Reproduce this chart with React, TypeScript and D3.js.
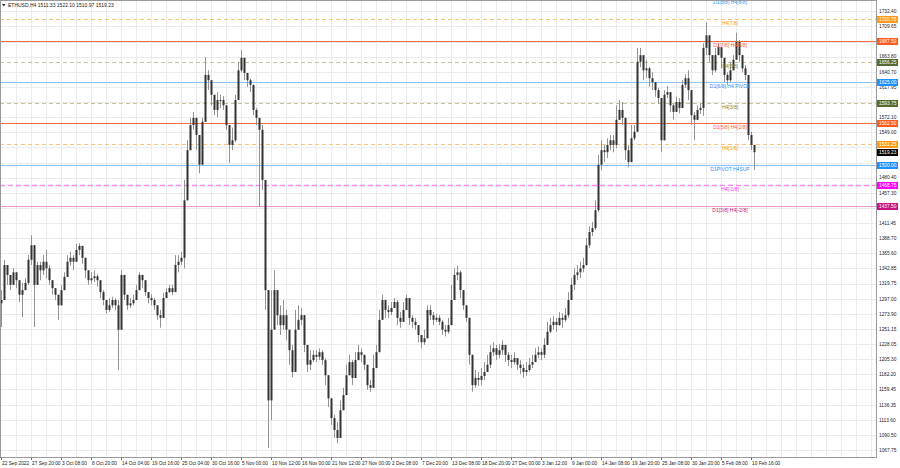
import React from "react";
import * as d3 from "d3";

// ---- data (H4 candles, grouped) ----
const firstOpen = 1290;
const closes = [
  1295,1348,1333,1318,1337,1325,1303,1310,1321,1356,
  1378,1318,1348,1340,1353,1343,1325,1313,1303,1287,
  1310,1330,1353,1359,1353,1371,1377,1359,1340,1325,
  1328,1331,1325,1307,1295,1280,1287,1295,1287,1250,
  1333,1303,1287,1290,1295,1310,1333,1325,1307,1298,
  1295,1287,1272,1268,1298,1307,1313,1307,1348,1353,
  1359,1446,1522,1560,1571,1545,1500,1565,1636,1628,
  1606,1583,1598,1598,1590,1560,1530,1537,1598,1643,
  1662,1639,1628,1621,1583,1571,1553,1477,1310,1143,
  1250,1310,1272,1257,1272,1250,1219,1186,1250,1265,
  1272,1227,1197,1204,1212,1209,1216,1204,1181,1146,
  1116,1098,1086,1128,1151,1181,1201,1177,1204,1216,
  1212,1197,1166,1162,1192,1216,1265,1295,1280,1277,
  1283,1292,1268,1262,1280,1298,1268,1262,1257,1242,
  1231,1237,1280,1272,1265,1268,1262,1250,1247,1257,
  1295,1333,1337,1310,1287,1268,1212,1166,1177,1174,
  1180,1186,1197,1216,1222,1212,1219,1227,1212,1204,
  1201,1207,1197,1192,1186,1189,1197,1201,1212,1216,
  1212,1227,1247,1257,1262,1257,1268,1265,1272,1295,
  1318,1333,1337,1343,1348,1378,1398,1404,1431,1500,
  1522,1519,1530,1537,1530,1568,1583,1571,1522,1504,
  1540,1550,1656,1666,1643,1646,1631,1625,1613,1601,
  1537,1606,1610,1590,1580,1595,1586,1621,1631,1613,
  1575,1568,1583,1586,1677,1696,1666,1643,1666,1678,
  1662,1636,1628,1643,1659,1686,1666,1646,1636,1545,
  1530,1519,
];
const highs = [
  1310,1356,1340,1325,1343,1337,1318,1321,1328,1363,
  1393,1340,1353,1353,1363,1371,1348,1325,1313,1303,
  1318,1337,1363,1368,1363,1380,1381,1374,1356,1333,
  1337,1340,1334,1318,1310,1295,1298,1300,1298,1295,
  1340,1318,1298,1298,1303,1318,1337,1333,1318,1307,
  1304,1298,1287,1280,1306,1313,1318,1318,1363,1363,
  1368,1477,1537,1571,1580,1568,1515,1571,1663,1643,
  1621,1606,1610,1606,1604,1590,1560,1556,1606,1656,
  1674,1651,1639,1631,1598,1586,1571,1560,1477,1295,
  1310,1340,1303,1287,1295,1280,1242,1227,1280,1287,
  1283,1268,1227,1219,1219,1219,1222,1219,1207,1181,
  1143,1121,1110,1143,1162,1197,1212,1204,1216,1227,
  1222,1212,1197,1174,1212,1227,1280,1303,1295,1287,
  1292,1298,1295,1277,1292,1303,1298,1272,1268,1257,
  1242,1250,1287,1287,1277,1274,1272,1265,1257,1268,
  1318,1343,1347,1340,1303,1287,1268,1212,1189,1186,
  1192,1201,1212,1227,1231,1227,1228,1234,1227,1216,
  1212,1216,1207,1204,1198,1201,1207,1212,1222,1225,
  1222,1237,1262,1268,1271,1268,1277,1275,1283,1307,
  1328,1343,1348,1353,1359,1389,1407,1413,1446,1515,
  1537,1530,1540,1545,1545,1590,1598,1595,1571,1530,
  1560,1560,1677,1677,1663,1659,1648,1640,1624,1616,
  1601,1613,1619,1606,1592,1603,1601,1628,1637,1643,
  1606,1580,1590,1593,1684,1715,1689,1666,1677,1684,
  1677,1656,1640,1656,1666,1700,1689,1662,1651,1636,
  1550,1527,
];
const lows = [
  1254,1310,1318,1310,1325,1313,1292,1269,1310,1318,
  1348,1254,1318,1325,1333,1328,1318,1303,1295,1265,
  1287,1318,1343,1347,1340,1362,1363,1350,1328,1318,
  1319,1322,1315,1298,1287,1275,1277,1283,1280,1189,
  1287,1295,1280,1283,1287,1298,1318,1313,1301,1290,
  1287,1280,1265,1253,1268,1298,1306,1303,1307,1337,
  1348,1343,1446,1522,1553,1522,1487,1500,1565,1613,
  1590,1575,1572,1586,1583,1553,1503,1522,1534,1598,
  1640,1628,1618,1610,1575,1560,1436,1462,1280,1071,
  1113,1295,1257,1242,1250,1234,1197,1178,1219,1250,
  1257,1216,1186,1189,1201,1201,1204,1197,1166,1133,
  1106,1086,1078,1098,1136,1159,1189,1166,1186,1207,
  1201,1189,1159,1156,1177,1204,1219,1272,1268,1268,
  1272,1283,1257,1253,1265,1283,1257,1253,1250,1231,
  1222,1227,1237,1265,1257,1262,1257,1242,1240,1244,
  1272,1295,1325,1298,1280,1262,1197,1156,1162,1165,
  1166,1174,1186,1192,1210,1204,1207,1212,1201,1195,
  1192,1197,1189,1183,1177,1180,1186,1192,1201,1207,
  1204,1207,1227,1245,1250,1247,1256,1253,1262,1268,
  1295,1310,1325,1328,1337,1347,1374,1392,1401,1428,
  1492,1504,1510,1522,1519,1525,1568,1560,1507,1496,
  1507,1537,1550,1648,1628,1631,1618,1613,1603,1592,
  1519,1537,1601,1580,1568,1583,1578,1590,1616,1598,
  1560,1537,1571,1577,1574,1666,1656,1636,1640,1666,
  1646,1625,1621,1625,1643,1659,1656,1640,1628,1537,
  1522,1492,
];

const timeLabels = [
  "22 Sep 2022", "27 Sep 20:00", "3 Oct 08:00", "8 Oct 20:00", "14 Oct 04:00",
  "19 Oct 16:00", "25 Oct 04:00", "30 Oct 16:00", "5 Nov 00:00", "10 Nov 12:00",
  "16 Nov 00:00", "21 Nov 12:00", "27 Nov 00:00", "2 Dec 08:00", "7 Dec 20:00",
  "13 Dec 08:00", "18 Dec 20:00", "27 Dec 00:00", "3 Jan 12:00", "9 Jan 00:00",
  "14 Jan 08:00", "19 Jan 20:00", "25 Jan 08:00", "30 Jan 20:00", "5 Feb 08:00",
  "10 Feb 16:00",
];
const priceTicks = [
  1067.75, 1090.5, 1113.6, 1136.35, 1159.45, 1182.2, 1205.3, 1228.05, 1251.15,
  1273.9, 1297.0, 1319.75, 1342.85, 1365.6, 1388.7, 1411.45, 1434.55, 1457.3,
  1480.4, 1503.15, 1526.25, 1549.0, 1572.1, 1594.85, 1617.95, 1640.7, 1663.8,
  1686.55, 1709.65, 1732.4,
];
const levelPrices = [1750, 1720.75, 1687.5, 1656.25, 1625, 1593.75, 1562.5, 1531.25, 1500, 1468.75, 1437.5];
const levelNames = [
  "D1[8/8] H4[8/8]", "H4[7/8]", "D1[7/8] H4[6/8]", "H4[5/8]", "D1[6/8] H4 PIVOT",
  "H4[3/8]", "D1[5/8] H4[2/8]", "H4[1/8]", "D1PIVOT H4SUP", "H4[-1/8]", "D1[3/8] H4[-2/8]",
];
const symbolTitle = "ETHUSD,H4";
const ohlcLast = [1511.33, 1522.1, 1510.97, 1519.23];

// ---- styles ----
const levelLineColors = ["#8fbbea", "#fbc27a", "#ff6a3a", "#c9c19c", "#8cc2f5", "#c9c19c", "#ff6a3a", "#fbc27a", "#8cc2f5", "#f78af2", "#ec95d6"];
const levelDash = [null, "4,3", null, "4,3", null, "4,3", null, "4,3", null, "5,3", null];
const levelWidth = [1, 1, 1, 1, 1, 1, 1, 1, 1, 1.4, 1];
const levelTextColors = ["#4a90e2", "#ff9a1a", "#ff5a1f", "#7f7f3a", "#2f8fff", "#7f7f3a", "#ff5a1f", "#ff9a1a", "#2f8fff", "#ff2bff", "#c71585"];
const levelBoxColors = [null, "#ff9b1a", "#ff5a1f", "#556b2f", "#1e90ff", "#556b2f", "#ff5a1f", "#ff9b1a", "#1e90ff", "#ff00ff", "#c71585"];

const W = 900;
const H = 468;
const PR = 876; // plot right
const PB = 457; // plot bottom
const FONT = "'Liberation Sans', Arial, sans-serif";

export default function App() {
  const n = closes.length;
  const x = d3.scaleLinear().domain([0, n - 1]).range([1, 754]);
  const y = d3.scaleLinear().domain([1055.67, 1746.5]).range([458, 2]);

  const vGrid: number[] = [];
  for (let k = 1; ; k++) {
    const xv = x(k * 5);
    if (xv >= PR) break;
    vGrid.push(xv);
  }

  // tick labels hidden behind a level box are not drawn (as in the reference)
  const boxYs = levelPrices.filter((_, i) => levelBoxColors[i]).map((p) => y(p)).concat([y(ohlcLast[3])]);
  const visibleTicks = priceTicks.filter((p) => boxYs.every((by) => Math.abs(by - y(p)) > 4));

  const candles = closes.map((c, i) => {
    const o = i === 0 ? firstOpen : closes[i - 1];
    const hi = Math.max(highs[i], o, c);
    const lo = Math.min(lows[i], o, c);
    const xc = Math.round(x(i));
    const yTop = y(Math.max(o, c));
    const yBot = y(Math.min(o, c));
    return (
      <g key={i}>
        <line x1={xc + 0.5} x2={xc + 0.5} y1={y(hi)} y2={y(lo)} stroke="#939393" strokeWidth={1} />
        <rect x={xc - 0.5} y={yTop} width={2} height={Math.max(1, yBot - yTop)} fill="#333" />
      </g>
    );
  });

  return (
    <svg width={W} height={H} style={{ position: "absolute", left: 0, top: 0, background: "#fff" }} fontFamily={FONT}>
      <defs>
        <clipPath id="plot">
          <rect x={0} y={0} width={PR} height={PB} />
        </clipPath>
      </defs>
      <rect x={0} y={0} width={W} height={H} fill="#fff" />
      <g clipPath="url(#plot)">
        {vGrid.map((xv, i) => (
          <line key={"vg" + i} x1={Math.round(xv) + 0.5} x2={Math.round(xv) + 0.5} y1={0} y2={PB} stroke="#ebebeb" />
        ))}
        {priceTicks.map((p, i) => (
          <line key={"hg" + i} x1={0} x2={PR} y1={Math.round(y(p)) + 0.5} y2={Math.round(y(p)) + 0.5} stroke="#ebebeb" />
        ))}
        {levelPrices.map((p, i) => (
          <line
            key={"lv" + i}
            x1={0}
            x2={PR}
            y1={Math.round(y(p)) + 0.5}
            y2={Math.round(y(p)) + 0.5}
            stroke={levelLineColors[i]}
            strokeWidth={levelWidth[i]}
            strokeDasharray={levelDash[i] || undefined}
          />
        ))}
        {candles}
        {levelPrices.map((p, i) => (
          <text
            key={"lt" + i}
            x={730}
            y={i === 0 ? 4 : Math.round(y(p)) + 5.5}
            fontSize={5}
            fill={levelTextColors[i]}
            textAnchor="middle"
          >
            {levelNames[i]}
          </text>
        ))}
      </g>
      {/* title */}
      <path d="M2,4 L5.5,4 L3.75,6.5 Z" fill="#333" />
      <text x={8} y={6.8} fontSize={5} fill="#222">
        {symbolTitle + "  " + ohlcLast.map((v) => v.toFixed(2)).join(" ")}
      </text>
      {/* frame */}
      <rect x={0.5} y={0.5} width={PR} height={PB} fill="none" stroke="#9a9a9a" />
      {/* price axis */}
      {visibleTicks.map((p, i) => (
        <text key={"pt" + i} x={879} y={y(p) + 1.8} fontSize={4.8} fill="#222">
          {p.toFixed(2)}
        </text>
      ))}
      {levelPrices.map((p, i) =>
        levelBoxColors[i] ? (
          <g key={"lb" + i}>
            <rect x={877} y={Math.round(y(p)) - 3} width={21} height={7} fill={levelBoxColors[i] as string} />
            <text x={879} y={Math.round(y(p)) + 2.3} fontSize={4.8} fill="#fff">
              {p.toFixed(2)}
            </text>
          </g>
        ) : null
      )}
      <g>
        <rect x={877} y={Math.round(y(ohlcLast[3])) - 3} width={21} height={7} fill="#000" />
        <text x={879} y={Math.round(y(ohlcLast[3])) + 2.3} fontSize={4.8} fill="#fff">
          {ohlcLast[3].toFixed(2)}
        </text>
      </g>
      {/* time axis */}
      {timeLabels.map((t, k) => {
        const xv = Math.round(x(k * 10));
        return (
          <g key={"tl" + k}>
            <line x1={xv + 0.5} x2={xv + 0.5} y1={PB + 0.5} y2={PB + 3} stroke="#777" />
            <text x={xv + 1} y={465} fontSize={4.8} fill="#222">
              {t}
            </text>
          </g>
        );
      })}
    </svg>
  );
}
